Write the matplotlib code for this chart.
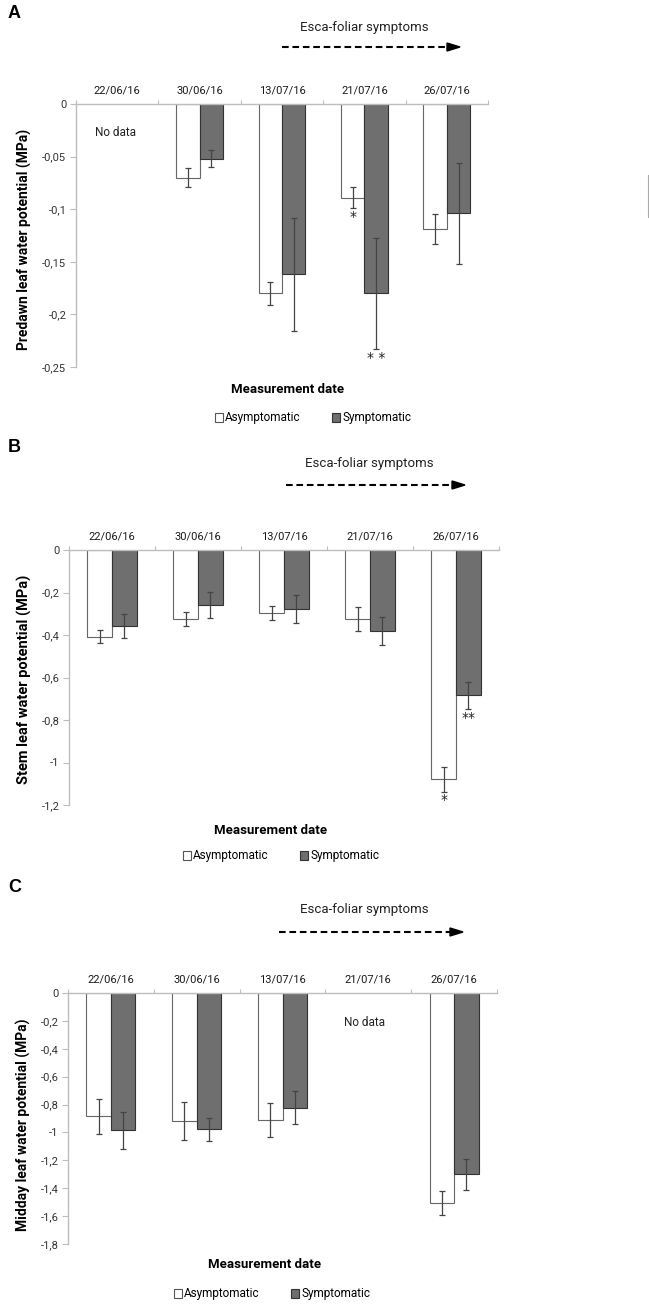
"""Leaf water potential panels (predawn, stem, midday) for asymptomatic vs symptomatic vines."""

import matplotlib

matplotlib.use("Agg")
import matplotlib.pyplot as plt
import numpy as np
from matplotlib.lines import Line2D
from matplotlib.patches import Patch, Polygon

W, H = 649, 1311
NAN = np.nan

dates = ["22/06/16", "30/06/16", "13/07/16", "21/07/16", "26/07/16"]

predawn_asym = [NAN, -0.070, -0.180, -0.089, -0.119]
predawn_asym_err = [NAN, 0.009, 0.011, 0.010, 0.014]
predawn_sym = [NAN, -0.052, -0.162, -0.180, -0.104]
predawn_sym_err = [NAN, 0.008, 0.054, 0.053, 0.048]
predawn_stars = [(3, "asym", "*"), (3, "sym", "* *")]

stem_asym = [-0.408, -0.326, -0.298, -0.326, -1.079]
stem_asym_err = [0.031, 0.033, 0.033, 0.057, 0.060]
stem_sym = [-0.358, -0.259, -0.278, -0.380, -0.684]
stem_sym_err = [0.055, 0.061, 0.064, 0.065, 0.065]
stem_stars = [(4, "asym", "*"), (4, "sym", "**")]

midday_asym = [-0.885, -0.916, -0.911, NAN, -1.507]
midday_asym_err = [0.127, 0.135, 0.122, NAN, 0.084]
midday_sym = [-0.986, -0.978, -0.823, NAN, -1.299]
midday_sym_err = [0.133, 0.085, 0.118, NAN, 0.111]
midday_stars = []

NARROW = ["Roboto", "DejaVu Sans"]
BOLD = ["Roboto", "DejaVu Sans"]
AXIS_GREY = "#bdbdbd"
SYM_FILL = "#6f6f6f"


def fx(px):
    return px / W


def fy(py):
    return 1 - py / H


def draw_panel(fig, box, ylim, yticks, ticklabels, asym, asym_err, sym, sym_err, stars,
               letter, ylabel, layout):
    left, right, top, bottom = box
    ax = fig.add_axes([fx(left), fy(bottom), fx(right - left), (bottom - top) / H])
    x = np.arange(len(dates))
    w = 0.285
    ax.bar(x - w / 2, asym, w, color="white", edgecolor="#666666", linewidth=0.8)
    ax.bar(x + w / 2, sym, w, color=SYM_FILL, edgecolor="#333333", linewidth=0.8)
    ax.errorbar(x - w / 2, asym, yerr=asym_err, fmt="none", ecolor="#444444",
                elinewidth=0.9, capsize=2.5, capthick=0.9)
    ax.errorbar(x + w / 2, sym, yerr=sym_err, fmt="none", ecolor="#444444",
                elinewidth=0.9, capsize=2.5, capthick=0.9)

    series = {"asym": (asym, asym_err, -w / 2), "sym": (sym, sym_err, w / 2)}
    for idx, which, label in stars:
        vals, errs, off = series[which]
        ax.annotate(label, (x[idx] + off, vals[idx] - errs[idx]), xytext=(0, -1),
                    textcoords="offset points", ha="center", va="top",
                    fontsize=10, color="#222222")

    ax.set_xlim(-0.5, len(dates) - 0.5)
    ax.set_ylim(*ylim)
    ax.set_yticks(yticks)
    ax.set_yticklabels(ticklabels, family=NARROW, fontsize=8, color="#333333")
    ax.xaxis.tick_top()
    ax.set_xticks(np.arange(len(dates) + 1) - 0.5)
    ax.set_xticklabels([])
    ax.set_xticks(x, minor=True)
    ax.set_xticklabels(dates, minor=True, family=NARROW, fontsize=8, color="#1a1a1a")
    ax.tick_params(axis="x", which="major", length=3, color=AXIS_GREY, width=0.8)
    ax.tick_params(axis="x", which="minor", length=0, pad=6)
    ax.tick_params(axis="y", length=4, color=AXIS_GREY, width=0.8, pad=3)
    for side in ("right", "bottom"):
        ax.spines[side].set_visible(False)
    for side in ("left", "top"):
        ax.spines[side].set_color(AXIS_GREY)
        ax.spines[side].set_linewidth(1.0)

    # panel letter, y label, x label, legend, annotation arrow
    fig.text(fx(8), fy(layout["letter_y"]), letter, fontsize=13, fontweight="bold",
             family=["Liberation Sans", "DejaVu Sans"], ha="left", va="center")
    fig.text(fx(layout["ylab_x"]), fy(layout["ylab_y"]), ylabel, rotation=90,
             fontsize=layout.get("ylab_size", 10), fontweight="bold", family=BOLD,
             ha="center", va="center")
    fig.text(fx(layout["xlab_x"]), fy(layout["xlab_y"]), "Measurement date",
             fontsize=9.5, fontweight="bold", family=BOLD, ha="center", va="center")
    handles = [Patch(facecolor="white", edgecolor="#555555", linewidth=0.8),
               Patch(facecolor=SYM_FILL, edgecolor="#333333", linewidth=0.8)]
    fig.legend(handles, ["Asymptomatic", "Symptomatic"], ncol=2, frameon=False,
               loc="center", bbox_to_anchor=(fx(layout["leg_x"]), fy(layout["leg_y"])),
               prop={"family": NARROW, "size": 8.5}, handlelength=0.7,
               handleheight=0.8, handletextpad=0.2, columnspacing=2.6)
    fig.text(fx(layout["esca_x"]), fy(layout["esca_y"]), "Esca-foliar symptoms",
             family=NARROW, fontsize=9.5, color="#222222", ha="center", va="center")
    a0, a1, ay = layout["arrow"]
    fig.add_artist(Line2D([fx(a0), fx(a1 - 12)], [fy(ay), fy(ay)], color="black",
                          linewidth=1.5, linestyle=(0, (3.2, 1.8))))
    fig.add_artist(Polygon([(fx(a1 - 13), fy(ay - 4)), (fx(a1), fy(ay)),
                            (fx(a1 - 13), fy(ay + 4))], closed=True,
                           facecolor="black", edgecolor="black"))
    if "nodata" in layout:
        nx, ny = layout["nodata"]
        fig.text(fx(nx), fy(ny), "No data", family=NARROW, fontsize=8.5,
                 color="#222222", ha="center", va="center")
    return ax


fig = plt.figure(figsize=(W / 100, H / 100), dpi=100)

draw_panel(fig, (76, 488, 104, 367), (-0.25, 0), [0, -0.05, -0.1, -0.15, -0.2, -0.25],
           ["0", "-0,05", "-0,1", "-0,15", "-0,2", "-0,25"],
           predawn_asym, predawn_asym_err, predawn_sym, predawn_sym_err, predawn_stars,
           "A", "Predawn leaf water potential (MPa)",
           dict(letter_y=13, ylab_x=24, ylab_y=239, xlab_x=288, xlab_y=390,
                leg_x=313, leg_y=418, esca_x=364, esca_y=27, arrow=(282, 460, 47),
                nodata=(116, 133)))

draw_panel(fig, (69, 499, 550, 805), (-1.2, 0), [0, -0.2, -0.4, -0.6, -0.8, -1.0, -1.2],
           ["0", "-0,2", "-0,4", "-0,6", "-0,8", "-1", "-1,2"],
           stem_asym, stem_asym_err, stem_sym, stem_sym_err, stem_stars,
           "B", "Stem leaf water potential (MPa)",
           dict(letter_y=448, ylab_x=24, ylab_y=679, xlab_x=271, xlab_y=830,
                leg_x=281, leg_y=856, esca_x=369, esca_y=463, arrow=(286, 465, 485),
                ylab_size=10.5))

draw_panel(fig, (68, 497, 993, 1244), (-1.8, 0),
           [0, -0.2, -0.4, -0.6, -0.8, -1.0, -1.2, -1.4, -1.6, -1.8],
           ["0", "-0,2", "-0,4", "-0,6", "-0,8", "-1", "-1,2", "-1,4", "-1,6", "-1,8"],
           midday_asym, midday_asym_err, midday_sym, midday_sym_err, midday_stars,
           "C", "Midday leaf water potential (MPa)",
           dict(letter_y=888, ylab_x=23, ylab_y=1125, xlab_x=265, xlab_y=1265,
                leg_x=272, leg_y=1294, esca_x=364, esca_y=909, arrow=(279, 463, 932),
                nodata=(364, 1023)))

# faint scan mark at the right edge of panel A
fig.add_artist(Line2D([fx(648), fx(648)], [fy(175), fy(217)], color="#aaaaaa",
                      linewidth=0.8))

fig.savefig("out.png", dpi=100)
plt.close(fig)
